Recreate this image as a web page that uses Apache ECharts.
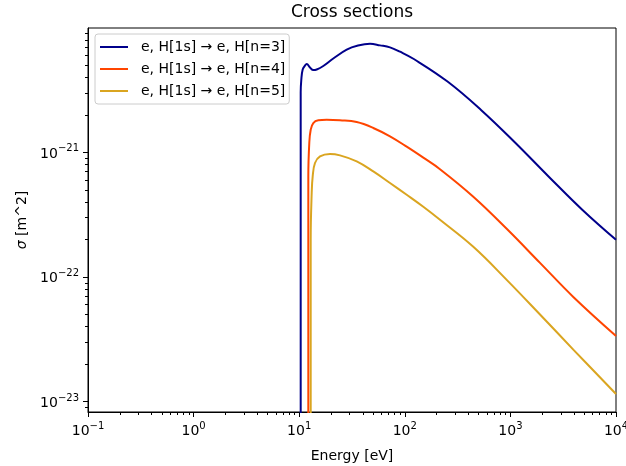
<!DOCTYPE html>
<html>
<head>
<meta charset="utf-8">
<script src="https://cdn.jsdelivr.net/npm/echarts@6/dist/echarts.min.js"></script>
<style>html,body{margin:0;padding:0;background:#fff}#c{width:626px;height:466px}</style>
</head>
<body>
<div id="c"></div>
<script>
// ---- data ----
const seriesNames = ['e, H[1s] \u2192 e, H[n=3]', 'e, H[1s] \u2192 e, H[n=4]', 'e, H[1s] \u2192 e, H[n=5]'];
const seriesColors = ['#00008b', '#ff4500', '#daa520'];

const energyN3 = [10.33, 10.33, 10.47, 10.79, 11.35, 11.78, 12.66, 13.60, 14.65, 16.91, 21.03, 28.18, 36.05, 46.83, 58.25, 72.4, 90.1, 121.7, 253.8, 530.1, 1106, 2310, 4818, 10000];
const sigmaN3  = [1e-24, 3.02e-21, 3.84e-21, 4.62e-21, 4.97e-21, 5.11e-21, 4.79e-21, 4.57e-21, 4.62e-21, 4.93e-21, 5.66e-21, 6.68e-21, 7.19e-21, 7.43e-21, 7.22e-21, 6.96e-21, 6.42e-21, 5.61e-21, 3.70e-21, 2.18e-21, 1.20e-21, 6.38e-22, 3.45e-22, 1.99e-22];

const energyN4 = [12.20, 12.20, 12.46, 12.85, 13.60, 15.17, 18.21, 24.34, 35.04, 50.31, 72.4, 104.2, 149.7, 215.4, 445.4, 922.6, 1907, 3941, 10000];
const sigmaN4  = [1e-24, 6.4e-22, 1.19e-21, 1.52e-21, 1.72e-21, 1.81e-21, 1.83e-21, 1.81e-21, 1.75e-21, 1.57e-21, 1.344e-21, 1.111e-21, 9.07e-22, 7.33e-22, 4.41e-22, 2.44e-22, 1.30e-22, 6.93e-23, 3.37e-23];

const energyN5 = [12.85, 12.85, 13.13, 13.42, 14.11, 15.74, 19.57, 24.34, 35.04, 50.31, 72.4, 104.2, 149.7, 215.4, 445.4, 922.6, 1907, 3941, 10000];
const sigmaN5  = [1e-24, 2.0e-22, 4.72e-22, 6.42e-22, 8.22e-22, 9.29e-22, 9.71e-22, 9.46e-22, 8.47e-22, 7.04e-22, 5.68e-22, 4.57e-22, 3.66e-22, 2.88e-22, 1.748e-22, 9.50e-23, 5.01e-23, 2.62e-23, 1.153e-23];

const xMajorTicks = [0.1, 1, 10, 100, 1000, 10000];
const yMajorTicks = [1e-23, 1e-22, 1e-21];
const xRange = [0.1, 10000];
const yRange = [8.27e-24, 9.95e-21];

// minor ticks (2..9 x 10^n) inside the axis ranges
function minorTicks(lo, hi) {
  const out = [];
  for (let e = Math.floor(Math.log10(lo)) - 1; e <= Math.ceil(Math.log10(hi)); e++) {
    for (let m = 2; m <= 9; m++) {
      const v = m * Math.pow(10, e);
      if (v >= lo && v <= hi) out.push(v);
    }
  }
  return out;
}
const xMinorTicks = minorTicks(xRange[0], xRange[1]);
const yMinorTicks = minorTicks(yRange[0], yRange[1]);

const FONT = 'DejaVu Sans';
function powLabel(v) {
  const e = Math.round(Math.log10(v));
  return '{b|10}{s|' + String(e).replace('-', '\u2212') + '}';
}
const richSup = {
  b: { fontFamily: FONT, fontSize: 14, color: '#000', verticalAlign: 'bottom' },
  s: { fontFamily: FONT, fontSize: 10, color: '#000', verticalAlign: 'bottom', padding: [0, 0, 7, 0] }
};

const chart = echarts.init(document.getElementById('c'), null, { renderer: 'canvas' });

function pairs(xs, ys) { return xs.map((x, i) => [x, ys[i]]); }
const seriesData = [pairs(energyN3, sigmaN3), pairs(energyN4, sigmaN4), pairs(energyN5, sigmaN5)];

chart.setOption({
  animation: false,
  backgroundColor: '#fff',
  title: {
    text: 'Cross sections',
    left: 352, top: 4, padding: 0, textAlign: 'center',
    textStyle: { fontFamily: FONT, fontSize: 17, fontWeight: 'normal', color: '#000' }
  },
  legend: {
    orient: 'vertical', left: 95, top: 34,
    padding: [5, 4, 5, 5],
    itemWidth: 28, itemHeight: 2, itemGap: 6, icon: 'rect',
    selectedMode: false,
    backgroundColor: 'rgba(255,255,255,0.8)',
    borderColor: '#cccccc', borderWidth: 1, borderRadius: 3,
    textStyle: { fontFamily: FONT, fontSize: 14, color: '#000', lineHeight: 16, padding: [0, 0, 0, 8] },
    data: seriesNames
  },
  grid: { left: 88, top: 28, width: 528, height: 384, show: true, borderColor: '#000', borderWidth: 1,
    backgroundColor: 'transparent', containLabel: false, outerBoundsMode: 'none' },
  xAxis: [
    {
      type: 'log', logBase: 10, min: xRange[0], max: xRange[1], position: 'bottom',
      name: 'Energy [eV]', nameLocation: 'middle', nameGap: 37,
      nameTextStyle: { fontFamily: FONT, fontSize: 14, color: '#000' },
      axisLine: { show: true, lineStyle: { color: '#000', width: 1 } },
      axisTick: { show: true, customValues: xMajorTicks, length: 5, lineStyle: { color: '#000', width: 1 } },
      axisLabel: { customValues: xMajorTicks, formatter: powLabel, rich: richSup, margin: 9 },
      splitLine: { show: false }, minorTick: { show: false }
    },
    {
      type: 'log', logBase: 10, min: xRange[0], max: xRange[1], position: 'bottom',
      axisLine: { show: false },
      axisTick: { show: true, customValues: xMinorTicks, length: 3, lineStyle: { color: '#000', width: 1 } },
      axisLabel: { show: false }, splitLine: { show: false }
    }
  ],
  yAxis: [
    {
      type: 'log', logBase: 10, min: yRange[0], max: yRange[1], position: 'left',
      name: '{i|\u03c3} [m^2]', nameLocation: 'middle', nameGap: 58,
      nameTextStyle: { fontFamily: FONT, fontSize: 14, color: '#000',
        rich: { i: { fontFamily: FONT, fontSize: 14, fontStyle: 'italic', color: '#000' } } },
      axisLine: { show: true, lineStyle: { color: '#000', width: 1 } },
      axisTick: { show: true, customValues: yMajorTicks, length: 5, lineStyle: { color: '#000', width: 1 } },
      axisLabel: { customValues: yMajorTicks, formatter: powLabel, rich: richSup, margin: 9 },
      splitLine: { show: false }
    },
    {
      type: 'log', logBase: 10, min: yRange[0], max: yRange[1], position: 'left',
      axisLine: { show: false },
      axisTick: { show: true, customValues: yMinorTicks, length: 3, lineStyle: { color: '#000', width: 1 } },
      axisLabel: { show: false }, splitLine: { show: false }
    }
  ],
  series: seriesNames.map((name, i) => ({
    name: name, type: 'line', xAxisIndex: 0, yAxisIndex: 0,
    data: seriesData[i], showSymbol: false, symbol: 'none',
    smooth: 0.4, clip: true,
    lineStyle: { color: seriesColors[i], width: 2 },
    itemStyle: { color: seriesColors[i] },
    z: 3 - i
  }))
});
</script>
</body>
</html>
